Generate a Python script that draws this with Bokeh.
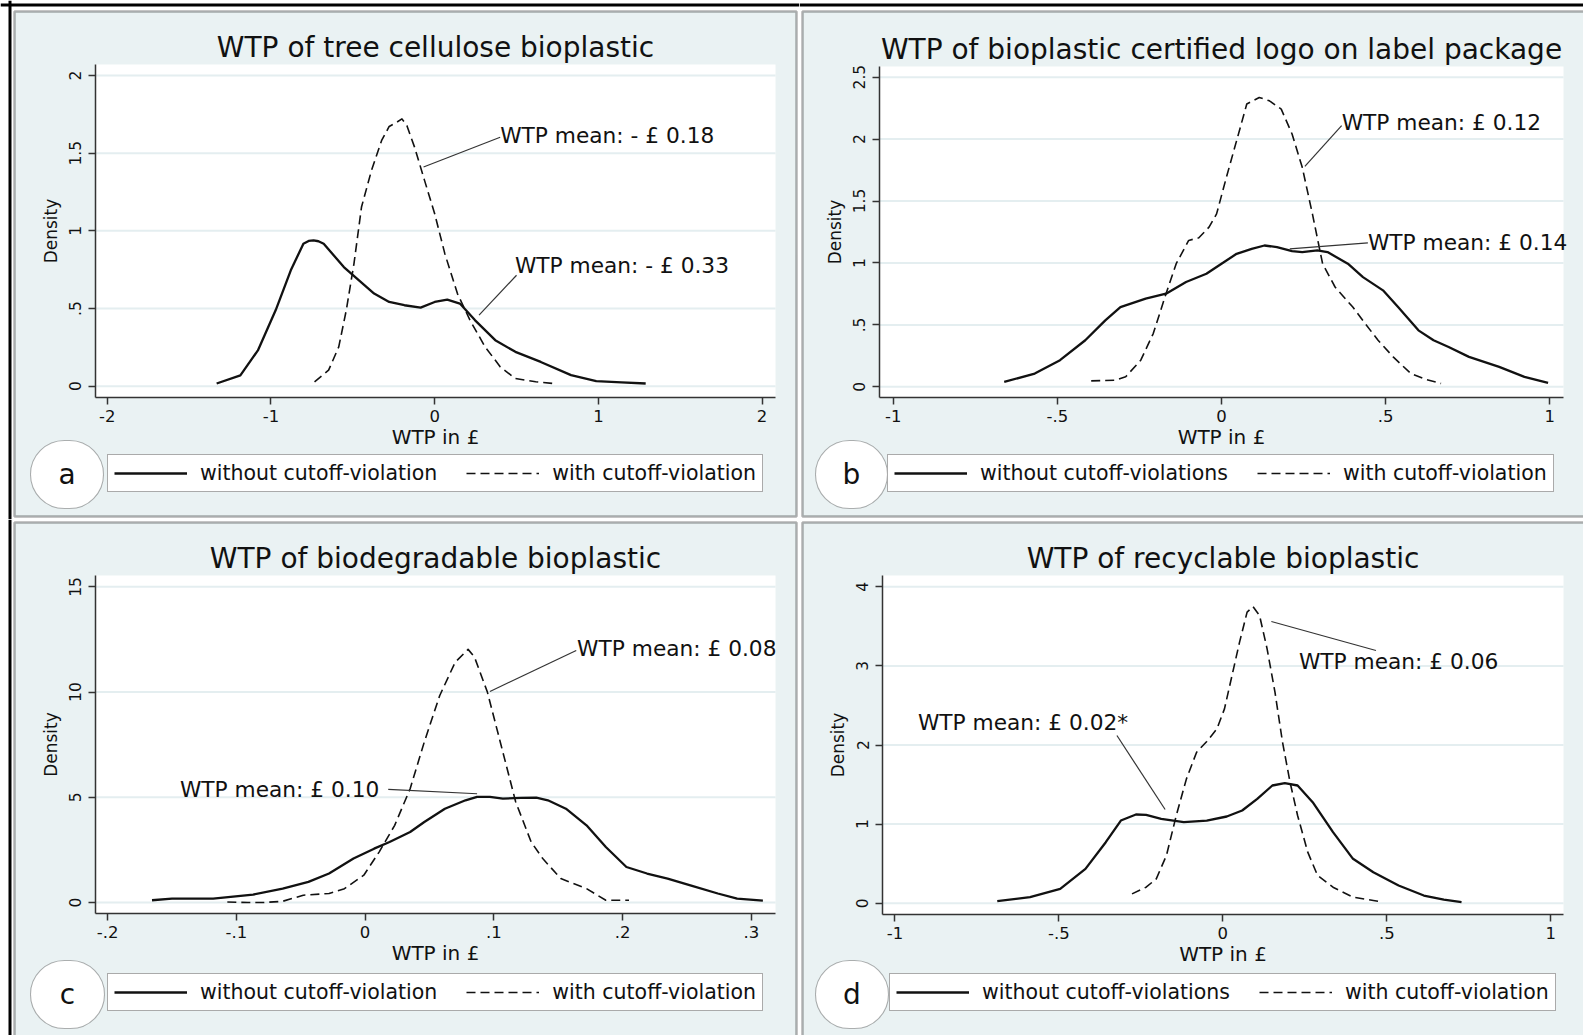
from bokeh.plotting import figure
from bokeh.layouts import column, row
from bokeh.models import (FixedTicker, CustomJSTickFormatter, Label, BoxAnnotation,
                          Legend, LegendItem, Range1d, Span)
from bokeh.embed import file_html
from bokeh.resources import INLINE

BG = "#EAF2F3"
GRID = "#E4EEF0"
FONT = "DejaVu Sans"
INK = "#111111"

# ---------------- data ----------------
# Panel a: tree cellulose
a_title = "WTP of tree cellulose bioplastic"
a_x_without = [-1.332, -1.187, -1.08, -0.971, -0.879, -0.802, -0.770, -0.740, -0.710, -0.678, -0.555, -0.370,
               -0.278, -0.185, -0.086, 0.0, 0.077, 0.154, 0.247, 0.370, 0.493, 0.648, 0.833, 0.987, 1.141, 1.289]
a_y_without = [0.017, 0.07, 0.23, 0.49, 0.746, 0.917, 0.935, 0.939, 0.933, 0.917, 0.767, 0.596,
               0.542, 0.521, 0.506, 0.542, 0.557, 0.532, 0.424, 0.296, 0.221, 0.156, 0.071, 0.032, 0.024, 0.017]
a_x_with = [-0.734, -0.648, -0.586, -0.540, -0.493, -0.447, -0.386, -0.324, -0.278, -0.231, -0.200, -0.170,
            -0.123, -0.062, 0.0, 0.062, 0.139, 0.216, 0.308, 0.401, 0.493, 0.617, 0.725]
a_y_with = [0.028, 0.103, 0.253, 0.489, 0.789, 1.153, 1.389, 1.582, 1.672, 1.700, 1.721, 1.678,
            1.539, 1.325, 1.110, 0.853, 0.596, 0.424, 0.253, 0.124, 0.049, 0.028, 0.017]
a_xticks = [-2, -1, 0, 1, 2]
a_yticks = [0, 0.5, 1, 1.5, 2]
a_notes = ["WTP mean: - £ 0.18", "WTP mean: - £ 0.33"]
a_note_x = [0.40, 0.49]
a_note_y = [1.614, 0.778]
a_note_align = ["left", "left"]
a_lead_x0 = [0.40, 0.50]
a_lead_y0 = [1.603, 0.714]
a_lead_x1 = [-0.068, 0.271]
a_lead_y1 = [1.411, 0.457]
a_legend = ["without cutoff-violation", "with cutoff-violation"]

# Panel b: certified logo
b_title = "WTP of bioplastic certified logo on label package"
b_x_without = [-0.662, -0.569, -0.492, -0.415, -0.354, -0.308, -0.231, -0.169, -0.108, -0.046, 0.0, 0.046,
               0.092, 0.131, 0.169, 0.215, 0.246, 0.292, 0.323, 0.385, 0.431, 0.492, 0.538, 0.6, 0.646,
               0.692, 0.754, 0.846, 0.923, 0.995]
b_y_without = [0.040, 0.107, 0.215, 0.376, 0.537, 0.644, 0.712, 0.752, 0.846, 0.913, 0.994, 1.074,
               1.114, 1.141, 1.128, 1.096, 1.088, 1.101, 1.088, 0.994, 0.886, 0.779, 0.644, 0.456, 0.376,
               0.322, 0.242, 0.161, 0.081, 0.032]
b_x_with = [-0.397, -0.323, -0.292, -0.246, -0.208, -0.169, -0.138, -0.1, -0.069, -0.038, -0.015, 0.015,
            0.046, 0.077, 0.115, 0.146, 0.182, 0.215, 0.246, 0.277, 0.308, 0.346, 0.4, 0.438, 0.477,
            0.523, 0.577, 0.623, 0.669]
b_y_with = [0.048, 0.054, 0.081, 0.215, 0.430, 0.752, 0.994, 1.182, 1.203, 1.289, 1.396, 1.692,
            1.987, 2.283, 2.336, 2.309, 2.242, 2.041, 1.772, 1.396, 0.994, 0.806, 0.644, 0.510, 0.376,
            0.242, 0.107, 0.059, 0.027]
b_xticks = [-1, -0.5, 0, 0.5, 1]
b_yticks = [0, 0.5, 1, 1.5, 2, 2.5]
b_notes = ["WTP mean: £ 0.12", "WTP mean: £ 0.14"]
b_note_x = [0.366, 0.446]
b_note_y = [2.135, 1.168]
b_note_align = ["left", "left"]
b_lead_x0 = [0.366, 0.446]
b_lead_y0 = [2.108, 1.163]
b_lead_x1 = [0.254, 0.208]
b_lead_y1 = [1.780, 1.114]
b_legend = ["without cutoff-violations", "with cutoff-violation"]

# Panel c: biodegradable
c_title = "WTP of biodegradable bioplastic"
c_x_without = [-0.1655, -0.150, -0.118, -0.087, -0.064, -0.044, -0.028, -0.009, 0.007, 0.019, 0.035,
               0.046, 0.062, 0.078, 0.087, 0.097, 0.107, 0.121, 0.133, 0.142, 0.156, 0.172, 0.187,
               0.203, 0.219, 0.235, 0.254, 0.274, 0.289, 0.309]
c_y_without = [0.11, 0.19, 0.19, 0.38, 0.66, 0.98, 1.38, 2.09, 2.56, 2.88, 3.35,
               3.83, 4.46, 4.86, 5.02, 5.02, 4.94, 4.97, 4.98, 4.86, 4.46, 3.67, 2.64,
               1.69, 1.38, 1.14, 0.79, 0.43, 0.19, 0.09]
c_x_with = [-0.107, -0.091, -0.079, -0.064, -0.048, -0.028, -0.016, -0.001, 0.011, 0.023, 0.035, 0.046,
            0.058, 0.070, 0.080, 0.085, 0.095, 0.105, 0.117, 0.129, 0.138, 0.152, 0.172, 0.187, 0.205]
c_y_with = [0.03, 0.0, 0.0, 0.06, 0.35, 0.43, 0.66, 1.30, 2.41, 3.67, 5.41, 7.63,
            9.84, 11.42, 12.03, 11.66, 10.0, 7.63, 4.78, 2.88, 2.09, 1.14, 0.66, 0.11, 0.11]
c_xticks = [-0.2, -0.1, 0, 0.1, 0.2, 0.3]
c_yticks = [0, 5, 10, 15]
c_notes = ["WTP mean: £ 0.08", "WTP mean: £ 0.10"]
c_note_x = [0.1647, 0.011]
c_note_y = [12.09, 5.38]
c_note_align = ["left", "right"]
c_lead_x0 = [0.164, 0.018]
c_lead_y0 = [11.98, 5.38]
c_lead_x1 = [0.097, 0.087]
c_lead_y1 = [10.03, 5.17]
c_legend = ["without cutoff-violation", "with cutoff-violation"]

# Panel d: recyclable
d_title = "WTP of recyclable bioplastic"
d_x_without = [-0.688, -0.588, -0.496, -0.419, -0.357, -0.311, -0.265, -0.234, -0.188, -0.119, -0.049,
               0.012, 0.059, 0.105, 0.151, 0.189, 0.228, 0.274, 0.336, 0.397, 0.459, 0.536, 0.613,
               0.674, 0.728]
d_y_without = [0.025, 0.076, 0.181, 0.434, 0.771, 1.045, 1.121, 1.117, 1.067, 1.024, 1.045,
               1.096, 1.172, 1.319, 1.488, 1.517, 1.488, 1.277, 0.898, 0.561, 0.392, 0.223, 0.097,
               0.046, 0.013]
d_x_with = [-0.277, -0.234, -0.203, -0.172, -0.142, -0.111, -0.080, -0.049, -0.018, 0.005, 0.028, 0.051,
            0.074, 0.092, 0.112, 0.135, 0.159, 0.182, 0.205, 0.228, 0.259, 0.289, 0.336, 0.397, 0.459, 0.474]
d_y_with = [0.118, 0.202, 0.308, 0.603, 1.109, 1.572, 1.909, 2.044, 2.204, 2.457, 2.879, 3.300,
            3.680, 3.751, 3.637, 3.216, 2.668, 2.036, 1.530, 1.109, 0.645, 0.350, 0.202, 0.076, 0.034, 0.025]
d_xticks = [-1, -0.5, 0, 0.5, 1]
d_yticks = [0, 1, 2, 3, 4]
d_notes = ["WTP mean: £ 0.06", "WTP mean: £ 0.02*"]
d_note_x = [0.232, -0.930]
d_note_y = [3.06, 2.289]
d_note_align = ["left", "left"]
d_lead_x0 = [0.467, -0.323]
d_lead_y0 = [3.195, 2.12]
d_lead_x1 = [0.148, -0.176]
d_lead_y1 = [3.562, 1.184]
d_legend = ["without cutoff-violations", "with cutoff-violation"]

TICK_JS = """
const v = Math.round(tick * 1000) / 1000;
let s = v.toString();
if (s.startsWith("0.")) { s = s.slice(1); }
else if (s.startsWith("-0.")) { s = "-" + s.slice(2); }
return s;
"""


def panel(geom, xr, yr, xticks, yticks, title, xw, yw, xc, yc, notes, nx, ny, nal,
          lx0, ly0, lx1, ly1, letter, leg_labels):
    (ox, oy, W, H, L, R, T, B, box, ell, leg, outer_v, outer_h) = geom
    x0, x1 = xr
    y0, y1 = yr
    dx = (x1 - x0) / (R - L)
    dy = (y1 - y0) / (B - T)
    xs = x0 - (L - ox) * dx
    xe = x1 + (ox + W - R) * dx
    ys = y0 - (oy + H - B) * dy
    ye = y1 + (T - oy) * dy

    def sx(px):
        return px - ox

    def sy(py):
        return oy + H - py

    p = figure(width=W, height=H, x_range=Range1d(xs, xe), y_range=Range1d(ys, ye),
               output_backend="svg", toolbar_location=None,
               min_border=0, min_border_left=0, min_border_right=0,
               min_border_top=0, min_border_bottom=0)
    p.title.visible = False
    p.border_fill_color = "white"
    p.background_fill_color = "white"
    p.outline_line_color = None

    # outer frame lines of the whole figure
    if outer_v is not None:
        p.add_layout(Span(location=sx(outer_v), location_units="screen", dimension="height",
                          line_color="black", line_width=3, level="image"))
    if outer_h is not None:
        p.add_layout(Span(location=sy(outer_h), location_units="screen", dimension="width",
                          line_color="black", line_width=3, level="image"))

    # panel background with border
    bl, br, bt, bb = box
    p.add_layout(BoxAnnotation(left=sx(bl), right=sx(br), top=sy(bt), bottom=sy(bb),
                               left_units="screen", right_units="screen",
                               top_units="screen", bottom_units="screen",
                               fill_color=BG, fill_alpha=1, line_color="black", line_width=2.5,
                               level="image"))
    # white plot region
    p.add_layout(BoxAnnotation(left=x0, right=x1, bottom=y0, top=y1,
                               fill_color="white", fill_alpha=1, line_color=None, level="image"))

    xt = FixedTicker(ticks=xticks)
    yt = FixedTicker(ticks=yticks)
    p.xaxis.ticker = xt
    p.yaxis.ticker = yt
    p.xgrid.visible = False
    p.ygrid.visible = False
    # horizontal grid lines limited to the plot region
    p.segment(x0=[x0] * len(yticks), x1=[x1] * len(yticks), y0=yticks, y1=yticks,
              line_color=GRID, line_width=2, level="underlay")
    p.xaxis.fixed_location = y0
    p.yaxis.fixed_location = x0
    p.xaxis.bounds = (x0, x1)
    p.yaxis.bounds = (y0, y1)
    for ax in (p.xaxis[0], p.yaxis[0]):
        ax.formatter = CustomJSTickFormatter(code=TICK_JS)
        ax.axis_line_color = "#333333"
        ax.axis_line_width = 1.5
        ax.major_tick_line_color = "#333333"
        ax.major_tick_line_width = 1.5
        ax.major_tick_out = 7
        ax.major_tick_in = 0
        ax.minor_tick_line_color = None
        ax.major_label_text_font = FONT
        ax.major_label_text_color = INK
        ax.axis_label_text_font = FONT
        ax.axis_label_text_font_style = "normal"
        ax.axis_label_text_color = INK
    p.xaxis.axis_label = "WTP in £"
    p.xaxis.axis_label_text_font_size = "20px"
    p.xaxis.major_label_text_font_size = "16.5px"
    p.xaxis.major_label_standoff = 5
    p.xaxis.axis_label_standoff = 0
    p.yaxis.axis_label = "Density"
    p.yaxis.axis_label_text_font_size = "17px"
    p.yaxis.major_label_text_font_size = "15.5px"
    p.yaxis.major_label_orientation = "vertical"
    p.yaxis.major_label_standoff = 7
    p.yaxis.axis_label_standoff = 6

    r1 = p.line(xw, yw, line_color=INK, line_width=2.3, line_join="round")
    r2 = p.line(xc, yc, line_color=INK, line_width=1.6, line_dash="9 5", line_join="round")
    p.segment(x0=lx0, y0=ly0, x1=lx1, y1=ly1, line_color="#333333", line_width=1.2)
    for t, x, y, al in zip(notes, nx, ny, nal):
        p.add_layout(Label(x=x, y=y, text=t, text_font=FONT, text_font_size="21.7px",
                           text_align=al, text_baseline="middle", text_color=INK))

    # title
    p.add_layout(Label(x=sx((L + R) / 2), y=sy(T - 17), x_units="screen", y_units="screen", text=title,
                       text_font=FONT, text_font_size="28px", text_align="center",
                       text_baseline="middle", text_color=INK))

    # ellipse with letter
    ex0, ex1, ey0, ey1 = ell
    p.add_layout(BoxAnnotation(left=sx(ex0), right=sx(ex1), bottom=sy(ey1), top=sy(ey0),
                               left_units="screen", right_units="screen",
                               top_units="screen", bottom_units="screen",
                               fill_color="white", fill_alpha=1, line_color="black", line_width=1.1,
                               border_radius=34, level="overlay"))
    p.add_layout(Label(x=sx((ex0 + ex1) / 2), y=sy((ey0 + ey1) / 2), x_units="screen", y_units="screen",
                       text=letter, text_font=FONT, text_font_size="28px", text_align="center",
                       text_baseline="middle", text_color=INK, level="overlay"))

    lgx, lgy = leg
    legend = Legend(items=[LegendItem(label=leg_labels[0], renderers=[r1]),
                           LegendItem(label=leg_labels[1], renderers=[r2])],
                    location=(sx(lgx), sy(lgy)), orientation="horizontal",
                    padding=6, spacing=29, margin=0, glyph_width=73, glyph_height=20,
                    label_standoff=13, label_height=20,
                    label_text_font=FONT, label_text_font_size="20.5px", label_text_color=INK,
                    border_line_color="#555555", border_line_width=1.5,
                    background_fill_color="white", background_fill_alpha=1.0)
    p.add_layout(legend)
    return p


FAR = 3000
# quadrant: origin x, y, width, height; plot region L, R, T, B; panel box (l, r, t, b);
# ellipse (x0, x1, y0, y1); legend (left, bottom); outer vertical line x; outer horizontal line y
ga = (0, 0, 799, 519, 95, 775, 64, 397, (14, 796, 11, 516), (30, 103, 440, 508), (107, 492), 9.5, 4.5)
gb = (799, 0, 784, 519, 879, 1563, 66, 397, (802, FAR, 11, 516), (815, 887, 440, 508), (887, 492), None, 4.5)
gc = (0, 519, 799, 516, 95, 775, 575, 913, (14, 796, 522, FAR), (30, 104, 960, 1028), (107, 1011), 9.5, None)
gd = (799, 519, 784, 516, 882, 1563, 575, 914, (802, FAR, 522, FAR), (815, 888, 960, 1028), (889, 1011), None, None)

pa = panel(ga, (-2.072, 2.082), (-0.073, 2.071), a_xticks, a_yticks, a_title,
           a_x_without, a_y_without, a_x_with, a_y_with, a_notes, a_note_x, a_note_y, a_note_align,
           a_lead_x0, a_lead_y0, a_lead_x1, a_lead_y1, "a", a_legend)
pb = panel(gb, (-1.042, 1.042), (-0.086, 2.586), b_xticks, b_yticks, b_title,
           b_x_without, b_y_without, b_x_with, b_y_with, b_notes, b_note_x, b_note_y, b_note_align,
           b_lead_x0, b_lead_y0, b_lead_x1, b_lead_y1, "b", b_legend)
pc = panel(gc, (-0.2094, 0.3188), (-0.52, 15.54), c_xticks, c_yticks, c_title,
           c_x_without, c_y_without, c_x_with, c_y_with, c_notes, c_note_x, c_note_y, c_note_align,
           c_lead_x0, c_lead_y0, c_lead_x1, c_lead_y1, "c", c_legend)
pd_ = panel(gd, (-1.038, 1.039), (-0.143, 4.143), d_xticks, d_yticks, d_title,
            d_x_without, d_y_without, d_x_with, d_y_with, d_notes, d_note_x, d_note_y, d_note_align,
            d_lead_x0, d_lead_y0, d_lead_x1, d_lead_y1, "d", d_legend)

layout = column(row(pa, pb), row(pc, pd_))
open("out.html", "w").write(file_html(layout, INLINE))
